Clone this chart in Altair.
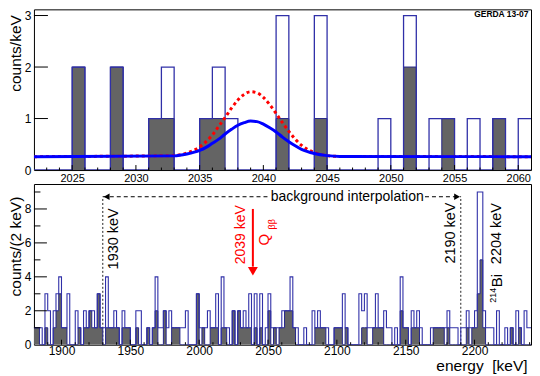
import altair as alt
import pandas as pd

FONT = "Liberation Sans"
GREY = "#646464"
HBLUE = "#3030a8"
W = 498
H_TOP = 161
H_BOT = 161

# ---------------- data ----------------
# upper panel: 1 keV bins starting at 2022 keV
top_start = 2022
top_blue = [0, 0, 0, 2, 0, 0, 2, 0, 0, 1, 2, 0, 0, 1, 2, 1, 0, 0, 0, 3,
            0, 0, 3, 0, 0, 0, 0, 1, 0, 3, 0, 1, 1, 0, 1, 0, 1, 0, 1]
top_grey = [0, 0, 0, 2, 0, 0, 2, 0, 0, 1, 1, 0, 0, 1, 1, 0, 0, 0, 0, 1,
            0, 0, 1, 0, 0, 0, 0, 0, 0, 2, 0, 0, 1, 0, 0, 0, 1, 0, 0]

# lower panel: 2 keV bins starting at 1880 keV
bot_start = 1880
bot_blue = [1, 1, 1, 0, 3, 2, 0, 2, 3, 4,
            1, 1, 3, 0, 0, 2, 1, 0, 2, 1,
            2, 2, 1, 3, 1, 1, 4, 1, 1, 2,
            1, 0, 2, 1, 1, 0, 0, 2, 2, 0,
            0, 1, 0, 1, 4, 1, 1, 2, 1, 2,
            1, 1, 1, 1, 1, 2, 0, 0, 0, 3,
            1, 1, 1, 2, 1, 1, 3, 0, 4, 1,
            1, 0, 2, 0, 2, 1, 2, 1, 3, 0,
            3, 0, 3, 0, 1, 3, 1, 1, 1, 1,
            2, 2, 2, 4, 1, 1, 0, 0, 1, 0,
            0, 2, 1, 2, 1, 1, 1, 0, 0, 1,
            1, 1, 3, 1, 0, 0, 0, 0, 3, 2,
            3, 1, 1, 1, 3, 1, 1, 2, 1, 1,
            0, 1, 0, 4, 1, 1, 0, 2, 1, 2,
            1, 0, 0, 0, 1, 1, 1, 1, 1, 1,
            2, 1, 1, 1, 0, 1, 1, 2, 1, 1,
            2, 9, 9, 2, 1, 1, 1, 0, 2, 0,
            0, 1, 0, 1, 0, 2, 1, 0, 2, 1,
            1, 2]
bot_grey = [1, 1, 0, 0, 1, 0, 0, 1, 2, 3,
            1, 1, 0, 0, 0, 0, 1, 0, 1, 1,
            2, 1, 1, 3, 1, 0, 1, 1, 1, 1,
            1, 0, 1, 1, 1, 0, 0, 1, 0, 0,
            0, 1, 0, 1, 2, 0, 0, 2, 0, 0,
            1, 1, 1, 0, 0, 0, 0, 0, 0, 3,
            0, 1, 0, 0, 1, 1, 1, 0, 1, 1,
            0, 0, 2, 0, 2, 1, 1, 1, 1, 0,
            1, 0, 1, 0, 0, 2, 0, 1, 0, 1,
            1, 2, 2, 2, 1, 0, 0, 0, 0, 0,
            0, 0, 1, 1, 1, 1, 0, 0, 0, 1,
            1, 1, 0, 1, 0, 0, 0, 0, 0, 1,
            1, 0, 0, 1, 1, 1, 1, 0, 0, 0,
            0, 0, 0, 2, 1, 1, 0, 1, 1, 1,
            0, 0, 0, 0, 0, 1, 1, 1, 1, 0,
            1, 0, 0, 0, 0, 0, 0, 1, 0, 1,
            1, 3, 5, 1, 0, 0, 0, 0, 0, 0,
            0, 0, 0, 1, 0, 0, 1, 0, 0, 0,
            0, 1]

# expectation curves in the upper panel
curve_e = [2022, 2033, 2034, 2035, 2035.5, 2036, 2036.5, 2037, 2037.5, 2038,
           2038.5, 2039, 2039.5, 2040, 2040.5, 2041, 2041.5, 2042, 2042.5,
           2043, 2044, 2045, 2046, 2061]
curve_limit = [0.26, 0.275, 0.31, 0.38, 0.44, 0.52, 0.60, 0.70, 0.79, 0.87,
               0.92, 0.95, 0.94, 0.89, 0.82, 0.74, 0.64, 0.55, 0.47,
               0.40, 0.32, 0.28, 0.265, 0.26]
curve_claim = [0.26, 0.28, 0.33, 0.45, 0.55, 0.68, 0.85, 1.02, 1.20, 1.36,
               1.47, 1.52, 1.50, 1.41, 1.27, 1.10, 0.92, 0.75, 0.60,
               0.48, 0.34, 0.28, 0.265, 0.26]

# axis labels / ticks
top_xlabels = [2025, 2030, 2035, 2040, 2045, 2050, 2055, 2060]
top_xminor = [2023, 2024, 2026, 2027, 2028, 2029, 2031, 2032, 2033, 2034,
              2036, 2037, 2038, 2039, 2041, 2042, 2043, 2044, 2046, 2047,
              2048, 2049, 2051, 2052, 2053, 2054, 2056, 2057, 2058, 2059]
top_ylabels = [0, 1, 2, 3]
bot_xlabels = [1900, 1950, 2000, 2050, 2100, 2150, 2200]
bot_xminor = [1890, 1910, 1920, 1930, 1940, 1960, 1970, 1980, 1990, 2010,
              2020, 2030, 2040, 2060, 2070, 2080, 2090, 2110, 2120, 2130,
              2140, 2160, 2170, 2180, 2190, 2210, 2220, 2230, 2240]
bot_ylabels = [0, 2, 4, 6, 8]
bot_yminor = [1, 3, 5, 7, 9]

# annotation positions (data coordinates of the lower panel)
window = [1930, 2190]
interp_y = 8.72
interp_gap = [2051, 2164]
q_energy = 2039


def step_frame(start, width, counts):
    n = len(counts)
    return pd.DataFrame({
        "e": [start + width * i for i in range(n + 1)],
        "c": list(counts) + [counts[-1]],
    })


def axis_x(values, size, pad=2, title=None, **kw):
    return alt.Axis(values=values, format="d", title=title, ticks=False,
                    domain=False, grid=False, labelFont=FONT,
                    labelFontSize=size, labelColor="black", labelPadding=pad,
                    labelFlush=False, labelOverlap=False, **kw)


def axis_y(values, title, ty):
    return alt.Axis(values=values, format="d", title=title, ticks=False,
                    domain=False, grid=False, labelFont=FONT,
                    labelFontSize=12, labelColor="black", labelPadding=3,
                    labelOverlap=False,
                    titleFont=FONT, titleFontSize=15.5,
                    titleFontWeight="normal", titleColor="black",
                    titleAngle=270, titleAlign="center",
                    titleBaseline="middle", titleX=-18, titleY=ty)


def histo_layers(df_b, df_g, X, Y, blue_w):
    g_area = alt.Chart(df_g).mark_area(
        interpolate="step-after", color=GREY, clip=True
    ).encode(x=X("e"), y=Y("c"))
    g_line = alt.Chart(df_g).mark_line(
        interpolate="step-after", color="#26268a", strokeWidth=1, clip=True
    ).encode(x=X("e"), y=Y("c"))
    b_line = alt.Chart(df_b).mark_line(
        interpolate="step-after", color=HBLUE, strokeWidth=blue_w, clip=True
    ).encode(x=X("e"), y=Y("c"))
    return [g_area, g_line, b_line]


def tick_layers(xmaj, xmin, ymaj, ymin, X, Y, h, ylen):
    layers = []
    for vals, ln in ((xmaj, 5), (xmin, 2.5)):
        if vals:
            layers.append(alt.Chart(pd.DataFrame({"v": vals})).mark_rule(
                color="black", strokeWidth=1
            ).encode(x=X("v"), y=alt.value(h), y2=alt.value(h - ln)))
    for vals, ln in ((ymaj, ylen), (ymin, ylen / 2)):
        if vals:
            layers.append(alt.Chart(pd.DataFrame({"v": vals})).mark_rule(
                color="black", strokeWidth=1
            ).encode(y=Y("v"), x=alt.value(0), x2=alt.value(ln)))
    return layers


# ---------------- upper panel ----------------
sx_top = alt.Scale(domain=[2022, 2061], nice=False, zero=False)
sy_top = alt.Scale(domain=[0, 3.12], nice=False)
ax_tx = axis_x(top_xlabels, 11)
ax_ty = axis_y(top_ylabels, "counts/keV", 43.7)


def XT(f):
    return alt.X(f"{f}:Q", scale=sx_top, axis=ax_tx)


def YT(f):
    return alt.Y(f"{f}:Q", scale=sy_top, axis=ax_ty)


curves = pd.DataFrame({"e": curve_e, "lim": curve_limit, "claim": curve_claim})
red_curve = alt.Chart(curves).mark_line(
    interpolate="monotone", color="#ff0000", strokeWidth=3,
    strokeDash=[3, 3], clip=True
).encode(x=XT("e"), y=YT("claim"))
blue_curve = alt.Chart(curves).mark_line(
    interpolate="monotone", color="#0000ff", strokeWidth=3, clip=True
).encode(x=XT("e"), y=YT("lim"))

gerda = alt.Chart(pd.DataFrame({"e": [2060.8], "c": [3.03], "t": ["GERDA 13-07"]})).mark_text(
    align="right", baseline="middle", font=FONT, fontSize=8.5,
    fontWeight="bold", color="black"
).encode(x=XT("e"), y=YT("c"), text="t:N")

top_layers = (
    histo_layers(step_frame(top_start, 1, top_blue),
                 step_frame(top_start, 1, top_grey), XT, YT, 1.3)
    + [red_curve, blue_curve]
    + tick_layers(top_xlabels, top_xminor, top_ylabels[1:], [], XT, YT, H_TOP, 14)
    + [gerda]
)
top = alt.layer(*top_layers).properties(width=W, height=H_TOP)

# ---------------- lower panel ----------------
sx_bot = alt.Scale(domain=[1880, 2241], nice=False, zero=False)
sy_bot = alt.Scale(domain=[0, 9.47], nice=False)
ax_bx = axis_x(bot_xlabels, 12, pad=1, title="energy\u00a0\u00a0[keV]",
               titleFont=FONT, titleFontSize=15.5, titleFontWeight="normal",
               titleColor="black", titleAlign="right",
               titleBaseline="alphabetic", titleX=494, titleY=25.8)
ax_by = axis_y(bot_ylabels, "counts/(2 keV)", 62.2)


def XB(f):
    return alt.X(f"{f}:Q", scale=sx_bot, axis=ax_bx)


def YB(f):
    return alt.Y(f"{f}:Q", scale=sy_bot, axis=ax_by)


vlines = pd.DataFrame({"e": window, "c": [0, 0], "c2": [interp_y, interp_y]})
vdash = alt.Chart(vlines).mark_rule(
    color="#222222", strokeWidth=1, strokeDash=[2, 2]
).encode(x=XB("e"), y=YB("c"), y2="c2:Q")

hsegs = pd.DataFrame({"e": [window[0], interp_gap[1]],
                      "e2": [interp_gap[0], window[1]],
                      "c": [interp_y, interp_y]})
hdash = alt.Chart(hsegs).mark_rule(
    color="black", strokeWidth=1, strokeDash=[4, 3]
).encode(x=XB("e"), x2="e2:Q", y=YB("c"))

arrows = pd.DataFrame({"e": [window[0] + 2.8, window[1] - 2.7],
                       "c": [interp_y, interp_y],
                       "s": ["triangle-left", "triangle-right"]})
heads = alt.Chart(arrows).mark_point(
    filled=True, color="black", size=45, opacity=1
).encode(x=XB("e"), y=YB("c"),
         shape=alt.Shape("s:N", scale=None))

interp_text = alt.Chart(pd.DataFrame({
    "e": [(interp_gap[0] + interp_gap[1]) / 2], "c": [interp_y],
    "t": ["background interpolation"]})).mark_text(
    align="center", baseline="middle", font=FONT, fontSize=14, color="black"
).encode(x=XB("e"), y=YB("c"), text="t:N")

q_line = alt.Chart(pd.DataFrame({"e": [q_energy], "c": [8.0], "c2": [4.6]})).mark_rule(
    color="#ff0000", strokeWidth=2
).encode(x=XB("e"), y=YB("c"), y2="c2:Q")
q_head = alt.Chart(pd.DataFrame({"e": [q_energy], "c": [4.33]})).mark_point(
    shape="triangle-down", filled=True, color="#ff0000", size=100, opacity=1
).encode(x=XB("e"), y=YB("c"))

labels = pd.DataFrame({
    "e": [1937.9, 2183.1, 2216.1, 2216.6, 2213.4, 2030.3, 2047.2, 2052.9],
    "c": [6.24, 6.58, 6.55, 3.78, 2.92, 6.48, 6.19, 7.1],
    "t": ["1930 keV", "2190 keV", "2204 keV", "Bi", "214", "2039 keV", "Q", "\u03b2\u03b2"],
    "fs": [14.5, 14.5, 14.5, 15, 9, 14, 15, 9],
    "col": ["black", "black", "black", "black", "black", "#ff0000", "#ff0000", "#ff0000"],
})
label_marks = alt.Chart(labels).mark_text(
    align="center", baseline="middle", font=FONT, angle=270
).encode(x=XB("e"), y=YB("c"), text="t:N",
         size=alt.Size("fs:Q", scale=None),
         color=alt.Color("col:N", scale=None))

bot_layers = (
    [vdash]
    + histo_layers(step_frame(bot_start, 2, bot_blue),
                   step_frame(bot_start, 2, bot_grey), XB, YB, 1.1)
    + tick_layers(bot_xlabels, bot_xminor, bot_ylabels[1:], bot_yminor, XB, YB, H_BOT, 13)
    + [hdash, heads, interp_text, q_line, q_head, label_marks]
)
bottom = alt.layer(*bot_layers).properties(width=W, height=H_BOT)

chart = alt.vconcat(top, bottom, spacing=14, bounds="flush").properties(
    padding={"left": 0, "top": 0, "right": 0, "bottom": 0}
).configure(font=FONT).configure_view(stroke="black", strokeWidth=1)

chart.save("out.html", embed_options={"renderer": "svg", "actions": False})
